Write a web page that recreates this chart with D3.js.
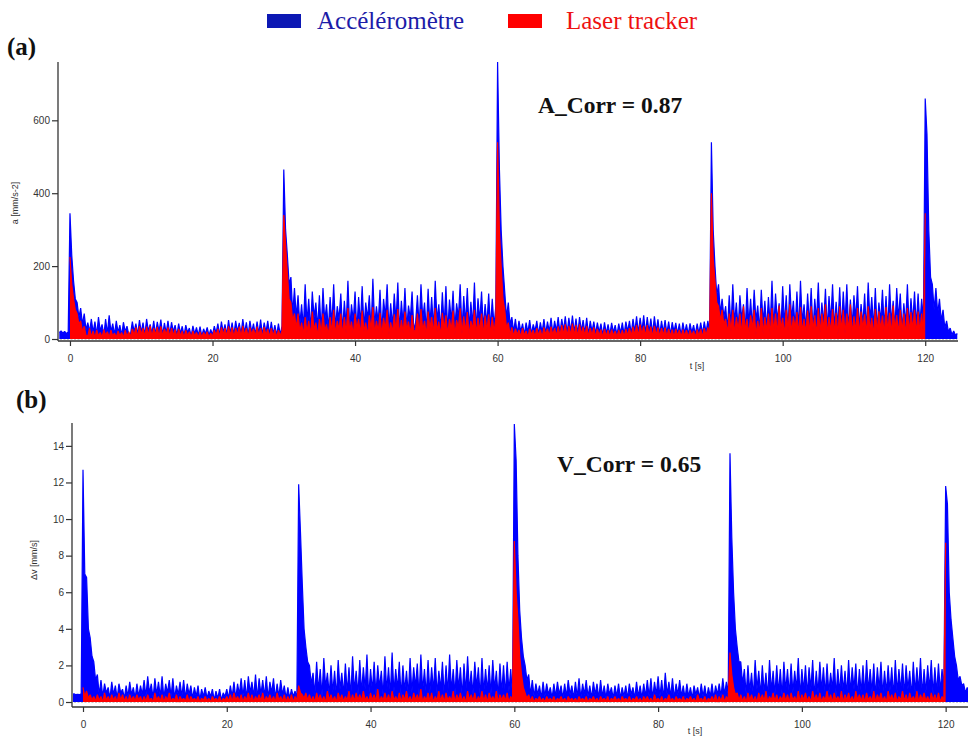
<!DOCTYPE html>
<html><head><meta charset="utf-8">
<script src="https://cdn.jsdelivr.net/npm/d3@7"></script>
<style>body{margin:0;background:#fff}svg{display:block}</style>
</head><body>
<svg id="chart" width="968" height="736"></svg>
<script>
// time grid: first sample time and sample step (seconds)
const T_START = -1.5, T_STEP = 0.25;
const xTicks = [0, 20, 40, 60, 80, 100, 120];
const aTicks = [0, 200, 400, 600];
const vTicks = [0, 2, 4, 6, 8, 10, 12, 14];
const legendLabels = ["Accéléromètre", "Laser tracker"];

// (a) acceleration, accelerometer [mm/s-2] (one row = 10 s)
const accA = [
 18,22,16,21,15,19,345,230,160,110,100,60,85,40,70,25,45,20,55,18,48,12,60,22,40,10,55,15,65,20,42,12,50,18,38,10,46,20,35,12,
 14,48,20,42,12,52,18,45,10,55,22,40,15,50,12,47,20,53,11,44,16,50,13,46,20,38,10,42,15,35,9,38,18,30,8,36,14,32,10,34,
 8,28,14,32,10,26,12,35,16,42,10,48,18,40,12,52,15,45,11,50,20,44,13,55,17,46,10,50,19,42,12,48,15,53,11,45,18,50,12,47,
 14,38,10,42,12,35,465,300,230,150,170,70,140,60,120,40,95,30,150,45,110,25,130,60,100,30,120,20,140,50,95,25,115,40,150,30,90,55,125,22,
 105,35,160,28,95,50,130,22,115,40,145,30,100,55,120,25,165,38,90,45,135,20,110,60,150,28,98,35,125,48,155,22,105,40,140,30,92,55,130,25,
 45,120,30,150,55,100,22,138,40,115,28,160,50,95,25,128,35,145,20,108,48,132,30,98,58,150,25,118,42,140,28,102,36,155,24,112,50,130,30,96,
 40,125,28,110,35,90,760,470,300,200,130,60,100,40,60,20,55,15,50,20,42,12,45,18,52,14,40,22,50,12,46,18,55,15,48,20,58,14,50,22,
 60,16,55,24,62,15,58,20,64,18,56,14,60,22,52,16,58,12,50,20,48,14,45,18,42,10,46,15,40,12,44,18,38,11,42,16,45,12,48,20,
 50,14,55,20,62,16,58,22,65,15,60,18,56,14,62,20,54,12,50,18,52,15,48,12,46,20,44,14,42,10,45,16,40,12,43,18,38,12,42,15,
 45,14,48,18,50,20,540,300,200,120,150,70,110,60,90,25,120,30,150,45,100,28,120,55,95,25,140,40,110,30,135,50,92,22,135,45,105,28,115,38,
 160,30,125,50,98,25,145,40,120,22,150,55,105,30,130,25,160,45,95,28,125,38,140,22,110,52,155,30,100,42,138,25,118,48,150,30,102,35,142,26,
 130,45,150,25,108,38,120,55,145,28,96,40,125,22,155,50,115,30,140,25,100,48,135,32,118,26,150,42,105,30,140,55,125,24,98,40,150,30,112,45,
 130,35,125,40,110,50,660,560,300,170,150,80,140,70,110,50,80,30,50,20,30,12,22,10,15
];
// (a) acceleration, laser tracker
const laserA = [
 null,null,null,null,null,null,225,150,110,80,70,40,50,20,35,10,8,30,6,22,4,25,8,18,5,26,10,20,5,24,8,16,5,22,9,18,4,24,7,20,
 6,28,10,32,5,35,12,30,7,34,9,36,6,30,11,33,5,35,8,28,12,32,6,30,10,26,5,28,8,22,4,24,9,20,5,22,8,18,4,20,
 5,18,8,20,4,16,7,24,10,28,6,32,12,30,7,35,9,32,5,30,11,34,6,36,10,30,5,32,12,28,7,34,9,30,5,33,10,28,6,30,
 8,26,5,24,9,22,340,260,180,110,100,50,70,30,70,20,45,12,60,18,50,10,75,25,45,8,55,15,70,22,40,10,60,18,80,12,50,25,70,10,
 60,15,85,22,48,10,70,28,55,12,78,20,45,8,65,25,88,14,50,20,72,10,58,26,80,12,46,18,68,22,82,10,52,16,75,24,48,12,66,20,
 25,70,12,82,22,50,10,75,28,60,14,85,20,48,9,72,26,65,12,55,24,78,10,52,30,84,14,62,20,74,10,50,25,80,12,58,22,70,10,64,
 22,68,12,60,20,55,540,300,200,110,80,30,45,12,32,8,28,12,25,6,30,10,22,5,28,12,24,6,30,10,26,5,32,12,28,8,34,10,30,8,
 35,8,38,12,40,7,36,10,42,9,38,6,40,12,34,8,36,7,30,10,32,6,28,9,26,5,28,8,24,6,26,9,22,5,25,8,24,6,28,9,
 30,8,34,10,38,7,40,12,36,8,38,10,34,6,36,9,32,7,30,10,32,6,28,8,26,5,28,9,25,6,26,8,24,5,25,9,22,6,26,8,
 28,6,30,9,32,8,400,220,160,100,90,50,80,40,55,15,70,20,80,12,60,25,70,10,90,22,55,12,65,28,80,10,50,18,85,14,60,22,70,12,
 85,20,70,12,92,26,58,10,80,22,95,14,62,28,74,10,88,20,55,16,78,12,90,24,65,10,85,18,70,26,95,12,60,20,82,14,72,10,90,22,
 80,15,70,25,95,12,62,20,85,10,75,28,68,14,90,22,58,10,82,18,76,26,64,12,88,20,72,10,92,24,66,14,80,20,70,10,85,18,74,26,
 80,14,75,20,70,12,345,null,null,null,null,null,null,null,null,null,null,null,null,null,null,null,null,null,null
];
// (b) velocity change, accelerometer [mm/s]
const accV = [
 0.4,0.45,0.4,0.42,0.4,0.45,12.7,7.0,6.8,4.0,3.5,2.5,2.2,1.2,1.5,0.4,1.2,0.3,1.0,0.5,0.8,0.2,1.1,0.4,0.9,0.2,1.0,0.5,0.7,0.2,0.9,0.3,1.1,0.4,0.8,0.2,1.0,0.3,0.9,0.4,
 1.2,0.3,1.4,0.5,1.0,0.2,1.3,0.4,1.1,0.3,1.4,0.2,1.0,0.5,1.2,0.3,1.3,0.2,0.9,0.4,1.1,0.3,1.2,0.2,1.0,0.4,0.9,0.2,0.8,0.3,0.9,0.1,0.7,0.3,0.8,0.2,0.6,0.3,0.7,0.1,
 0.6,0.2,0.7,0.1,0.5,0.3,0.7,0.2,0.9,0.3,1.1,0.2,1.0,0.4,1.3,0.3,1.2,0.2,1.4,0.5,1.1,0.3,1.5,0.2,1.3,0.4,1.2,0.3,1.4,0.2,1.1,0.5,1.3,0.2,1.0,0.3,1.2,0.4,0.9,0.2,
 0.8,0.2,0.7,0.3,0.6,0.2,11.9,9.3,6.5,4.0,3.0,2.2,2.0,1.0,1.6,0.4,2.2,0.6,1.8,0.3,2.4,0.8,1.6,0.4,2.0,0.5,1.7,0.3,2.3,0.7,1.6,0.4,2.1,0.5,1.9,0.3,2.5,0.6,1.7,0.4,
 2.3,0.5,1.9,0.7,2.6,0.3,1.8,0.6,2.2,0.4,2.0,0.8,1.7,0.3,2.5,0.6,1.9,0.4,2.7,0.5,1.8,0.7,2.2,0.3,2.0,0.6,1.7,0.4,2.4,0.5,1.9,0.8,2.1,0.3,2.6,0.6,1.8,0.4,2.3,0.5,
 1.9,0.6,2.4,0.4,1.7,0.7,2.2,0.3,2.0,0.5,2.6,0.6,1.8,0.4,2.3,0.7,1.9,0.3,2.1,0.5,2.5,0.6,1.7,0.4,2.2,0.8,1.9,0.3,2.4,0.5,1.8,0.6,2.0,0.4,2.3,0.7,1.7,0.3,2.1,0.5,
 2.0,0.4,2.2,0.6,1.8,0.3,15.2,13.2,8.0,5.0,3.5,2.5,2.0,1.2,1.5,0.4,1.2,0.3,1.0,0.4,0.9,0.2,1.1,0.3,1.0,0.4,0.8,0.2,1.0,0.3,1.1,0.4,0.9,0.2,1.0,0.3,1.2,0.4,0.9,0.2,
 1.1,0.3,1.3,0.2,1.0,0.4,1.2,0.3,0.9,0.2,1.1,0.4,1.0,0.2,1.2,0.3,0.9,0.2,1.0,0.4,0.8,0.2,0.9,0.3,1.0,0.2,0.8,0.3,0.9,0.2,1.0,0.4,0.8,0.2,1.1,0.3,0.9,0.2,1.0,0.3,
 1.2,0.3,1.3,0.2,1.1,0.4,1.4,0.3,1.2,0.2,1.6,0.4,1.1,0.3,1.3,0.2,1.0,0.4,1.2,0.3,0.9,0.2,1.0,0.3,0.8,0.2,0.9,0.4,0.8,0.2,1.0,0.3,0.9,0.2,0.8,0.3,1.0,0.2,0.9,0.4,
 1.0,0.3,1.3,0.4,1.1,0.4,13.6,9.0,6.0,4.0,3.0,2.2,2.2,1.0,1.8,0.4,2.0,0.6,1.6,0.3,2.3,0.7,1.7,0.4,2.0,0.5,1.6,0.3,2.3,0.6,1.7,0.4,2.0,0.5,1.8,0.3,2.2,0.6,1.8,0.4,
 2.1,0.5,1.7,0.7,2.4,0.3,1.8,0.6,2.0,0.4,1.9,0.7,2.3,0.3,1.7,0.5,2.2,0.6,1.9,0.4,2.1,0.5,1.6,0.7,2.4,0.3,1.8,0.5,2.0,0.6,1.7,0.4,2.3,0.5,1.9,0.7,2.1,0.3,1.8,0.5,
 2.0,0.4,2.3,0.6,1.8,0.5,2.1,0.3,1.9,0.7,2.2,0.4,1.7,0.5,2.0,0.6,1.9,0.3,2.3,0.5,1.8,0.6,2.1,0.4,2.0,0.7,1.7,0.3,2.2,0.5,1.9,0.6,2.4,0.4,1.8,0.5,2.0,0.7,2.3,0.4,
 1.9,0.5,2.1,0.6,1.8,0.7,11.8,10.8,6.0,4.5,3.5,2.5,2.0,1.2,1.4,0.9,1.0,0.5,0.8,0.3,0.6,0.4,0.8,0.3,0.5
];
// (b) velocity change, laser tracker
const laserV = [
 null,null,null,null,null,null,0.8,0.3,0.6,0.2,0.4,0.1,0.3,0.05,0.4,0.1,0.3,0.0,0.5,0.1,0.3,0.05,0.4,0.1,0.3,0.0,0.5,0.1,0.4,0.05,0.3,0.0,0.4,0.1,0.3,0.05,0.4,0.1,0.3,0.0,
 0.3,0.05,0.4,0.1,0.2,0.0,0.5,0.1,0.3,0.05,0.4,0.0,0.3,0.1,0.5,0.05,0.2,0.1,0.4,0.0,0.3,0.1,0.2,0.05,0.4,0.0,0.3,0.1,0.2,0.05,0.3,0.0,0.2,0.1,0.3,0.05,0.2,0.0,0.3,0.1,
 0.2,0.05,0.3,0.0,0.2,0.1,0.3,0.05,0.4,0.0,0.5,0.1,0.3,0.05,0.4,0.0,0.3,0.1,0.5,0.05,0.4,0.0,0.3,0.1,0.4,0.05,0.5,0.0,0.3,0.1,0.4,0.05,0.3,0.0,0.5,0.1,0.3,0.05,0.4,0.0,
 0.3,0.05,0.4,0.0,0.3,0.1,0.9,0.5,0.4,0.2,0.5,0.1,0.4,0.05,0.3,0.0,0.5,0.1,0.4,0.05,0.3,0.0,0.6,0.1,0.4,0.05,0.3,0.0,0.5,0.1,0.4,0.05,0.3,0.1,0.6,0.0,0.4,0.05,0.5,0.1,
 0.4,0.05,0.6,0.1,0.3,0.0,0.5,0.1,0.4,0.05,0.7,0.0,0.3,0.1,0.5,0.05,0.4,0.0,0.6,0.1,0.3,0.05,0.5,0.0,0.4,0.1,0.6,0.05,0.3,0.0,0.5,0.1,0.4,0.05,0.7,0.0,0.3,0.1,0.5,0.05,
 0.5,0.0,0.3,0.1,0.6,0.05,0.4,0.0,0.5,0.1,0.3,0.05,0.6,0.0,0.4,0.1,0.5,0.05,0.3,0.0,0.6,0.1,0.4,0.05,0.5,0.0,0.3,0.1,0.6,0.05,0.4,0.0,0.5,0.1,0.3,0.05,0.6,0.0,0.4,0.1,
 0.4,0.05,0.5,0.0,0.3,0.1,8.8,6.0,4.5,2.5,1.5,0.8,0.5,0.2,0.4,0.05,0.3,0.0,0.2,0.1,0.3,0.05,0.2,0.0,0.3,0.1,0.2,0.05,0.3,0.0,0.2,0.1,0.3,0.05,0.2,0.0,0.3,0.1,0.2,0.05,
 0.2,0.0,0.3,0.1,0.2,0.05,0.3,0.0,0.2,0.1,0.3,0.05,0.2,0.0,0.3,0.1,0.2,0.05,0.3,0.0,0.2,0.1,0.3,0.05,0.2,0.0,0.3,0.1,0.2,0.05,0.3,0.0,0.2,0.1,0.3,0.05,0.2,0.0,0.3,0.1,
 0.3,0.05,0.2,0.0,0.4,0.1,0.2,0.05,0.3,0.0,0.2,0.1,0.4,0.05,0.2,0.0,0.3,0.1,0.2,0.05,0.3,0.0,0.2,0.1,0.3,0.05,0.2,0.0,0.4,0.1,0.2,0.05,0.3,0.0,0.2,0.1,0.3,0.05,0.4,0.0,
 0.3,0.05,0.4,0.0,0.3,0.1,2.7,1.5,0.8,0.4,0.5,0.1,0.4,0.05,0.3,0.0,0.5,0.1,0.4,0.05,0.3,0.0,0.5,0.1,0.4,0.05,0.6,0.0,0.3,0.1,0.5,0.05,0.4,0.0,0.3,0.1,0.5,0.05,0.4,0.0,
 0.5,0.1,0.3,0.05,0.6,0.0,0.4,0.1,0.5,0.05,0.3,0.0,0.6,0.1,0.4,0.05,0.5,0.0,0.3,0.1,0.6,0.05,0.4,0.0,0.5,0.1,0.3,0.05,0.6,0.0,0.4,0.1,0.5,0.05,0.3,0.0,0.6,0.1,0.4,0.05,
 0.4,0.0,0.5,0.1,0.3,0.05,0.6,0.0,0.4,0.1,0.5,0.05,0.3,0.0,0.6,0.1,0.4,0.05,0.5,0.0,0.3,0.1,0.6,0.05,0.4,0.0,0.5,0.1,0.3,0.05,0.6,0.0,0.4,0.1,0.5,0.05,0.3,0.0,0.5,0.1,
 0.4,0.05,0.5,0.0,0.3,0.1,8.7,null,null,null,null,null,null,null,null,null,null,null,null,null,null,null,null,null,null
];

const BLUE = "#0000ff", RED = "#ff0000";
const svg = d3.select("#chart");
svg.append("rect").attr("width", 968).attr("height", 736).attr("fill", "#fff");

function toPoints(arr) { return arr.map((v, i) => ({ t: T_START + i * T_STEP, v })); }

function panel(cfg) {
  const x = d3.scaleLinear().domain(cfg.xDomain).range(cfg.xRange);
  const y = d3.scaleLinear().domain(cfg.yDomain).range(cfg.yRange);
  const g = svg.append("g");
  const clipId = "clip" + cfg.id;
  svg.append("clipPath").attr("id", clipId).append("rect")
    .attr("x", cfg.xRange[0] + 1).attr("y", cfg.yRange[1] - 2)
    .attr("width", 968 - cfg.xRange[0]).attr("height", cfg.axisY - cfg.yRange[1] + 1);

  const line = d3.line().defined(d => d.v != null).x(d => x(d.t)).y(d => y(d.v));
  const area = d3.area().defined(d => d.v != null).x(d => x(d.t)).y0(y(0)).y1(d => y(d.v));
  const plot = g.append("g").attr("clip-path", `url(#${clipId})`);
  [[cfg.blue, BLUE], [cfg.red, RED]].forEach(([arr, col]) => {
    const pts = toPoints(arr);
    plot.append("path").datum(pts).attr("d", area).attr("fill", col).attr("stroke", "none");
    plot.append("path").datum(pts).attr("d", line)
      .attr("fill", "none").attr("stroke", col).attr("stroke-width", 1.2).attr("stroke-linejoin", "bevel");
  });

  // zero reference line (dotted, over the traces)
  g.append("line").attr("x1", x(cfg.xDomain[0]) + 2).attr("x2", x(124.5))
    .attr("y1", y(0) + 0.5).attr("y2", y(0) + 0.5)
    .attr("stroke", "#c8c8c8").attr("stroke-width", 1.2).attr("stroke-dasharray", "2,1.5");

  // axes lines
  const axCol = "#333";
  g.append("line").attr("x1", cfg.xRange[0]).attr("x2", cfg.xRange[0])
    .attr("y1", cfg.yRange[1]).attr("y2", cfg.axisY).attr("stroke", axCol).attr("stroke-width", 1.3);
  g.append("line").attr("x1", cfg.xRange[0]).attr("x2", cfg.axisXEnd)
    .attr("y1", cfg.axisY).attr("y2", cfg.axisY).attr("stroke", axCol).attr("stroke-width", 1.3);

  const yAx = g.append("g").attr("transform", `translate(${cfg.xRange[0]},0)`)
    .call(d3.axisLeft(y).tickValues(cfg.yTicks).tickSize(6).tickPadding(2).tickSizeOuter(0));
  yAx.select(".domain").remove();
  const xAx = g.append("g").attr("transform", `translate(0,${cfg.axisY})`)
    .call(d3.axisBottom(x).tickValues(xTicks).tickSize(5).tickPadding(9).tickSizeOuter(0));
  xAx.select(".domain").remove();
  [yAx, xAx].forEach(a => {
    a.selectAll("line").attr("stroke", axCol).attr("stroke-width", 1.2);
    a.selectAll("text").attr("fill", "#333").attr("font-family", "Liberation Sans, Arial, sans-serif").attr("font-size", 10);
  });

  // axis titles
  g.append("text").attr("transform", `translate(${cfg.yTitleX},${cfg.yTitleY}) rotate(-90)`)
    .attr("text-anchor", "middle").attr("font-family", "Liberation Sans, Arial, sans-serif")
    .attr("font-size", 9).attr("fill", "#333").text(cfg.yTitle);
  g.append("text").attr("x", cfg.tTitleX).attr("y", cfg.tTitleY)
    .attr("text-anchor", "middle").attr("font-family", "Liberation Sans, Arial, sans-serif")
    .attr("font-size", 9).attr("fill", "#333").text("t [s]");

  // correlation annotation
  g.append("text").attr("x", cfg.corrX).attr("y", cfg.corrY)
    .attr("font-family", "Liberation Serif, Times New Roman, serif").attr("font-weight", "bold")
    .attr("font-size", 23.5).attr("fill", "#111").text(cfg.corr);
  // panel label
  g.append("text").attr("x", cfg.labX).attr("y", cfg.labY)
    .attr("font-family", "Liberation Serif, Times New Roman, serif").attr("font-weight", "bold")
    .attr("font-size", 25).attr("fill", "#111").text(cfg.label);
}

panel({
  id: "a", blue: accA, red: laserA,
  xDomain: [-1.68, 124.6], xRange: [58, 958],
  yDomain: [0, 760], yRange: [339, 62], axisY: 341, axisXEnd: 958,
  yTicks: aTicks, yTitle: "a [mm/s-2]", yTitleX: 18, yTitleY: 203,
  tTitleX: 697, tTitleY: 369,
  corr: "A_Corr = 0.87", corrX: 538, corrY: 113,
  label: "(a)", labX: 7, labY: 55
});
panel({
  id: "b", blue: accV, red: laserV,
  xDomain: [-1.53, 124.5], xRange: [72, 978],
  yDomain: [0, 15.25], yRange: [702, 423], axisY: 707, axisXEnd: 968,
  yTicks: vTicks, yTitle: "\u0394v [mm/s]", yTitleX: 37, yTitleY: 560,
  tTitleX: 695, tTitleY: 734,
  corr: "V_Corr = 0.65", corrX: 557, corrY: 472,
  label: "(b)", labX: 16, labY: 408
});

// legend
const legend = svg.append("g");
const legCols = ["#0c18b4", "#ff0000"], legText = ["#1c1ca8", "#ee1111"];
const legX = [267, 508], legTX = [317, 566];
legendLabels.forEach((lab, i) => {
  legend.append("rect").attr("x", legX[i]).attr("y", 14).attr("width", 34).attr("height", 14).attr("fill", legCols[i]);
  legend.append("text").attr("x", legTX[i]).attr("y", 29)
    .attr("font-family", "Liberation Serif, Times New Roman, serif").attr("font-size", 25)
    .attr("fill", legText[i]).text(lab);
});
</script>
</body></html>
